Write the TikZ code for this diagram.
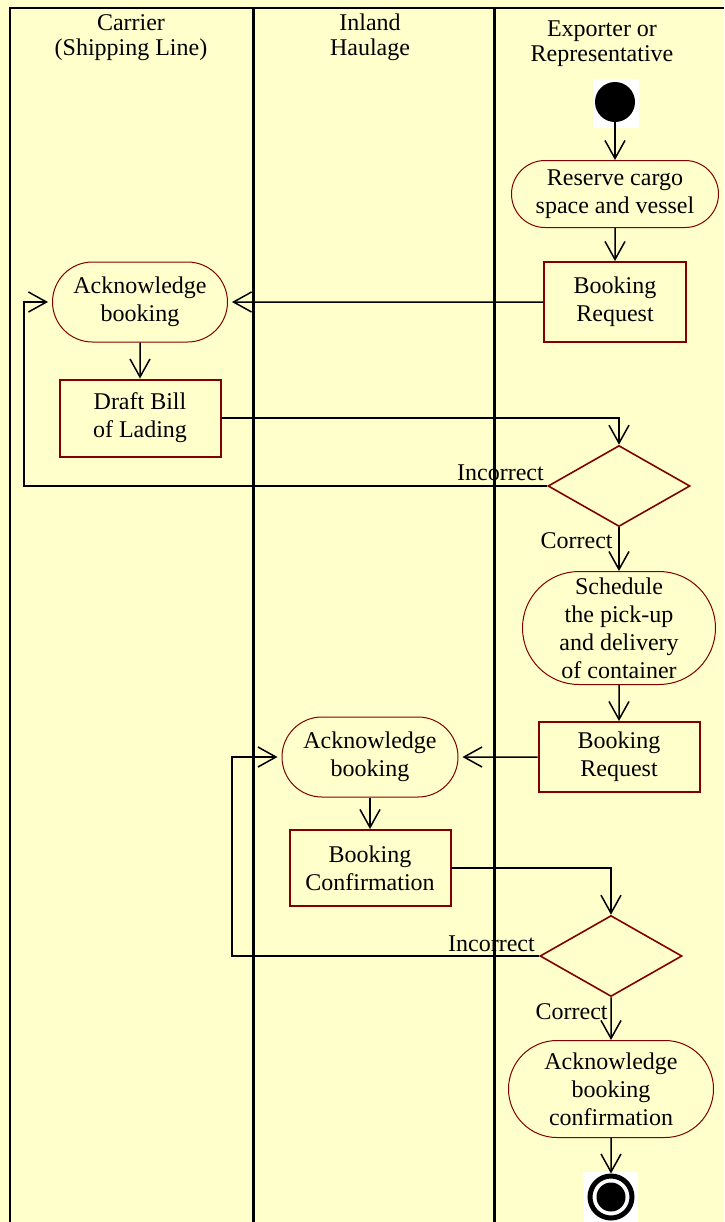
\documentclass[tikz,border=0pt]{standalone}
\usepackage{fontspec}
\setmainfont{Liberation Serif}
\usepackage{tikz}
\usetikzlibrary{arrows.meta,shapes.geometric,shapes.misc}
\definecolor{Y}{RGB}{255,255,204}
\definecolor{R}{RGB}{128,0,0}
\newcommand{\drawthick}{\draw[line width=1.5pt]}
\newcommand{\lanename}[4]{\node[align=center] (#1) at (#2,#3) {#4};}
\tikzset{
  act/.style={rounded rectangle, draw=R, line width=0.5pt, align=center, inner sep=0pt},
  doc/.style={rectangle, draw=R, line width=1pt, align=center, inner sep=0pt},
  gate/.style={diamond, draw=R, line width=0.8pt, inner sep=0pt, minimum width=71pt, minimum height=40.5pt},
  flow/.style={-{Straight Barb[length=9pt,width=10pt]}, line width=0.75pt}
}

\begin{document}
\begin{tikzpicture}[x=0.5pt, y=-0.5pt, every node/.style={font=\fontsize{12}{14}\selectfont}]
\useasboundingbox (0,0) rectangle (724,1222);
\fill[Y] (0,0) rectangle (724,1222);
% swimlanes
\draw[line width=1pt] (10,1222) -- (10,8) -- (724,8);
\drawthick (253,8) -- (253,1222);
\drawthick (494,8) -- (494,1222);
\lanename{carrier}{131}{38}{Carrier\\[-1.5pt](Shipping Line)}
\lanename{haulage}{370}{37}{Inland\\[-1.5pt]Haulage}
\lanename{exporter}{602}{44}{Exporter or\\[-1.5pt]Representative}
% start and end
\fill[white] (593,79) rectangle (639,128);
\node[circle, fill=black, minimum size=20pt, inner sep=0pt] (start) at (615,102) {};
\fill[white] (583,1172) rectangle (638,1222);
\node[circle, draw, line width=2.5pt, minimum size=21pt, inner sep=0pt] (stop) at (611,1197) {};
\fill (stop) circle (7.25pt);
% exporter steps
\node[act, minimum width=103.5pt, minimum height=33.5pt] (reserve) at (615,194) {Reserve cargo\\space and vessel};
\node[doc, minimum width=71pt, minimum height=40pt] (req1) at (615,302) {Booking\\Request};
\node[gate] (dec1) at (619,486) {};
\node[act, minimum width=96.5pt, minimum height=56.5pt] (sched) at (619,628) {Schedule\\the pick-up\\and delivery\\of container};
\node[doc, minimum width=80.5pt, minimum height=35pt] (req2) at (619,757) {Booking\\Request};
\node[gate] (dec2) at (611,956) {};
\node[act, minimum width=102.5pt, minimum height=48.5pt] (ackc) at (611,1089) {Acknowledge\\booking\\confirmation};
% carrier steps
\node[act, minimum width=87.5pt, minimum height=40pt] (ack1) at (140,302) {Acknowledge\\booking};
\node[doc, minimum width=80.5pt, minimum height=38.5pt] (draft) at (140,418) {Draft Bill\\of Lading};
% haulage steps
\node[act, minimum width=88pt, minimum height=40pt] (ack2) at (370,757) {Acknowledge\\booking};
\node[doc, minimum width=80.5pt, minimum height=38pt] (conf) at (370,868) {Booking\\Confirmation};
% flows
\draw[flow] (start) -- (reserve);
\draw[flow] (reserve) -- (req1);
\draw[flow, shorten >=2pt] (req1) -- (ack1);
\draw[flow] (ack1) -- (draft);
\draw[flow] (draft.east) -| (dec1.north);
\draw[flow, shorten >=2pt] (dec1.west) -- ++(-523,0) |- (ack1.west);
\draw[flow] (dec1) -- (sched);
\draw[flow] (sched) -- (req2);
\draw[flow, shorten >=2pt] (req2) -- (ack2);
\draw[flow] (ack2) -- (conf);
\draw[flow] (conf.east) -| (dec2.north);
\draw[flow, shorten >=2pt] (dec2.west) -- ++(-307,0) |- (ack2.west);
\draw[flow] (dec2) -- (ackc);
\draw[flow] (ackc) -- (stop);
% guards
\node[anchor=base east, inner sep=0pt] (inc1) at ([shift={(-1.5pt,3pt)}]dec1.west) {Incorrect};
\node[anchor=base east, inner sep=0pt] (cor1) at ([shift={(-3pt,-10.5pt)}]dec1.south) {Correct};
\node[anchor=base east, inner sep=0pt] (inc2) at ([shift={(-2pt,2.5pt)}]dec2.west) {Incorrect};
\node[anchor=base east, inner sep=0pt] (cor2) at ([shift={(-1.5pt,-11pt)}]dec2.south) {Correct};
\end{tikzpicture}
\end{document}
